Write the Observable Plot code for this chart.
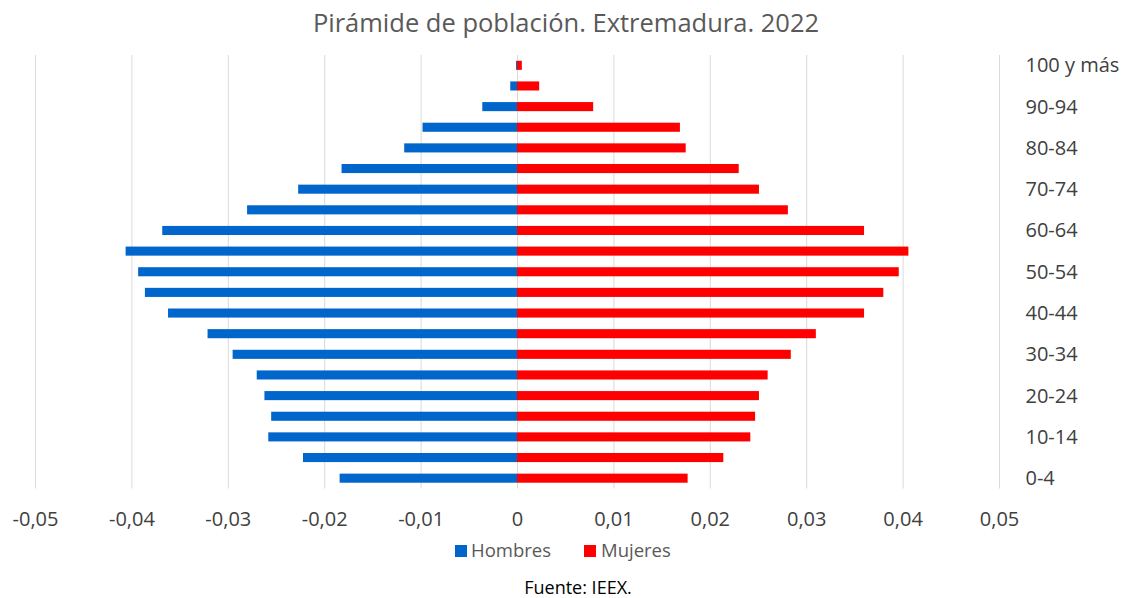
<!DOCTYPE html>
<html>
<head>
<meta charset="utf-8">
<script src="https://cdn.jsdelivr.net/npm/d3@7"></script>
<script src="https://cdn.jsdelivr.net/npm/@observablehq/plot@0.6"></script>
<style>
  body { margin: 0; background: #fff; font-family: "Open Sans", sans-serif; color: #595959; }
  #wrap { position: relative; width: 1125px; height: 598px; overflow: hidden; }
  #title { position: absolute; top: 5px; left: 0; width: 1132px; text-align: center; font-size: 25.5px; line-height: 34px; color: #595959; }
  #chart { position: absolute; top: 0; left: 0; }
  .leg { position: absolute; top: 539px; font-size: 18.5px; line-height: 22px; color: #595959; }
  .sw { position: absolute; top: 545px; width: 12px; height: 12px; }
  #caption { position: absolute; top: 578px; left: 0; width: 1156px; text-align: center; font-size: 18px; line-height: 18px; color: #000; }
</style>
</head>
<body>
<div id="wrap">
  <div id="title">Pirámide de población. Extremadura. 2022</div>
  <div id="chart"></div>
  <div class="sw" style="left:455px;background:#0066CC"></div>
  <div class="leg" style="left:471px">Hombres</div>
  <div class="sw" style="left:584px;background:#FF0000"></div>
  <div class="leg" style="left:601px">Mujeres</div>
  <div id="caption">Fuente: IEEX.</div>
</div>
<script>
const ageGroups = ["0-4","5-9","10-14","15-19","20-24","25-29","30-34","35-39","40-44","45-49","50-54","55-59","60-64","65-69","70-74","75-79","80-84","85-89","90-94","95-99","100 y más"];
const hombres = [-0.0184,-0.0222,-0.0258,-0.0255,-0.0262,-0.0270,-0.0295,-0.0321,-0.0362,-0.0386,-0.0393,-0.0406,-0.0368,-0.0280,-0.0227,-0.0182,-0.0117,-0.0098,-0.0036,-0.0007,-0.0001];
const mujeres = [0.0177,0.0214,0.0242,0.0247,0.0251,0.0260,0.0284,0.0310,0.0360,0.0380,0.0396,0.0406,0.0360,0.0281,0.0251,0.0230,0.0175,0.0169,0.0079,0.0023,0.0005];
const xTicks = [-0.05,-0.04,-0.03,-0.02,-0.01,0,0.01,0.02,0.03,0.04,0.05];
const yLabels = ["0-4","10-14","20-24","30-34","40-44","50-54","60-64","70-74","80-84","90-94","100 y más"];

const rowsH = ageGroups.map((g, i) => ({group: g, value: hombres[i]}));
const rowsM = ageGroups.map((g, i) => ({group: g, value: mujeres[i]}));

const fmt = d => d === 0 ? "0" : d.toFixed(2).replace(".", ",");

const chart = Plot.plot({
  width: 1125,
  height: 535,
  marginLeft: 35,
  marginRight: 126,
  marginTop: 55,
  marginBottom: 46.5,
  style: {fontFamily: "Open Sans, sans-serif", fontSize: "20px", color: "#595959", background: "transparent"},
  x: {domain: [-0.05, 0.05]},
  y: {domain: ageGroups.slice().reverse(), paddingInner: 0.56, paddingOuter: 0.28, round: false},
  marks: [
    Plot.gridX({ticks: xTicks, stroke: "#d9d9d9", strokeOpacity: 1, strokeWidth: 1}),
    Plot.barX(rowsH, {x1: 0, x2: "value", y: "group", fill: "#0066CC"}),
    Plot.barX(rowsM, {x1: 0, x2: "value", y: "group", fill: "#FF0000"}),
    Plot.axisX({ticks: xTicks, tickSize: 0, tickPadding: 23, tickFormat: fmt, label: null, fill: "#404040"}),
    Plot.axisY({anchor: "right", ticks: yLabels, tickSize: 0, tickPadding: 26, label: null, textAnchor: "start", fill: "#404040"})
  ]
});
document.getElementById("chart").appendChild(chart);
</script>
</body>
</html>
